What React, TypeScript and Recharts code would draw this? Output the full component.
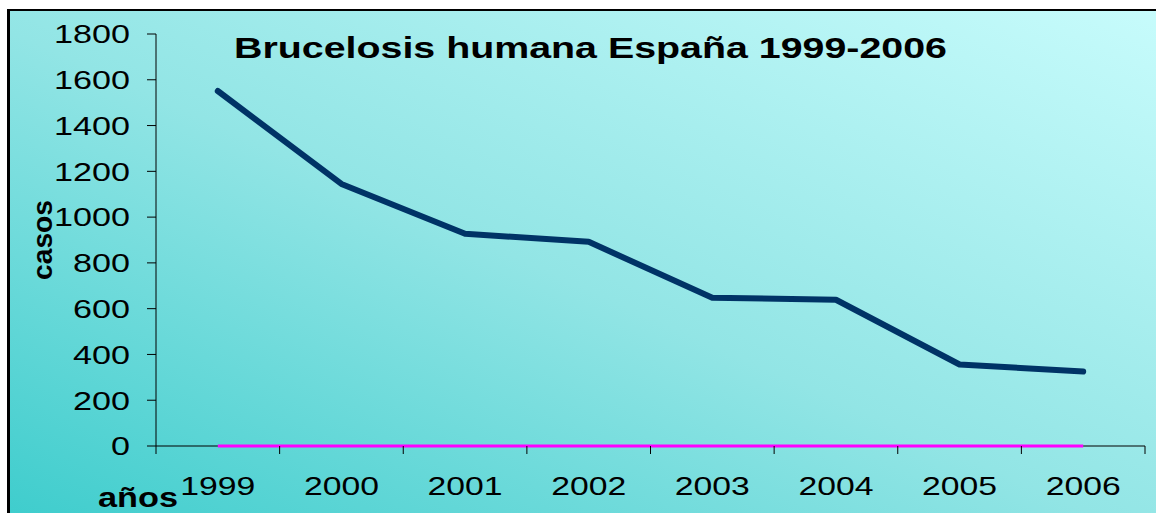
import { Line, LineChart, XAxis, YAxis } from "recharts"

const years = ["1999", "2000", "2001", "2002", "2003", "2004", "2005", "2006"]
const cases = [1551, 1145, 927, 892, 648, 639, 356, 325]
const baseline = [0, 0, 0, 0, 0, 0, 0, 0]
const yTicks = [0, 200, 400, 600, 800, 1000, 1200, 1400, 1600, 1800]

const data = years.map((year, i) => ({ year, cases: cases[i], zero: baseline[i] }))

const font = "'Liberation Sans', Arial, sans-serif"

function YTick(props: any) {
  const { x, y, payload } = props
  const label = String(payload.value)
  return (
    <g>
      <line x1={x - 9} x2={x} y1={y} y2={y} stroke="#000" strokeWidth={1} />
      <text
        x={x - 26}
        y={y}
        dy="0.36em"
        textAnchor="end"
        fontFamily={font}
        fontSize={26}
        fill="#000"
        textLength={label.length * 19}
        lengthAdjust="spacingAndGlyphs"
      >
        {label}
      </text>
    </g>
  )
}

// tick marks sit on the category borders; the axis line shows only where the
// magenta zero series does not cover it
function XTick(props: any) {
  const { x, y, payload, index } = props
  const half = payload.offset ?? 61.8
  const label = String(payload.value)
  const last = index === years.length - 1
  return (
    <g>
      <line x1={x - half} x2={x - half} y1={y} y2={y + 8} stroke="#000" strokeWidth={1} />
      {index === 0 && <line x1={x - half} x2={x} y1={y} y2={y} stroke="#000" strokeWidth={1} />}
      {last && <line x1={x + half} x2={x + half} y1={y} y2={y + 8} stroke="#000" strokeWidth={1} />}
      {last && <line x1={x} x2={x + half} y1={y} y2={y} stroke="#000" strokeWidth={1} />}
      <text
        x={x}
        y={y + 49}
        textAnchor="middle"
        fontFamily={font}
        fontSize={26}
        fill="#000"
        textLength={label.length * 18.75}
        lengthAdjust="spacingAndGlyphs"
      >
        {label}
      </text>
    </g>
  )
}

export default function App() {
  return (
    <div style={{ position: "fixed", inset: 0, overflow: "hidden", background: "#fff" }}>
      <div
        style={{
          position: "absolute",
          left: 7,
          top: 9,
          width: 1170,
          height: 520,
          borderLeft: "3px solid #000",
          borderTop: "2px solid #000",
          background: "linear-gradient(to top right, #3ccccc 0%, #92e5e5 48%, #c8fcfc 100%)",
        }}
      />
      <div style={{ position: "absolute", left: 0, top: 0 }}>
        <LineChart width={1156} height={513} data={data} margin={{ top: 34, right: 11, bottom: 0, left: 0 }}>
          <XAxis
            dataKey="year"
            scale="band"
            height={67}
            tickLine={false}
            tickSize={0}
            tickMargin={0}
            axisLine={false}
            tick={<XTick />}
            interval={0}
          />
          <YAxis
            width={156}
            domain={[0, 1800]}
            ticks={yTicks}
            tickLine={false}
            tickSize={0}
            tickMargin={0}
            axisLine={{ stroke: "#000", strokeWidth: 1 }}
            tick={<YTick />}
            interval={0}
          />
          <Line
            dataKey="zero"
            stroke="#ff00ff"
            strokeWidth={3}
            dot={false}
            isAnimationActive={false}
          />
          <Line
            dataKey="cases"
            stroke="#003366"
            strokeWidth={6}
            strokeLinecap="round"
            strokeLinejoin="round"
            dot={false}
            isAnimationActive={false}
          />
        </LineChart>
      </div>
      <svg
        width={1156}
        height={513}
        style={{ position: "absolute", left: 0, top: 0, pointerEvents: "none" }}
      >
        <text
          x={234}
          y={58}
          fontFamily={font}
          fontWeight="bold"
          fontSize={29}
          fill="#000"
          textLength={713}
          lengthAdjust="spacingAndGlyphs"
        >
          Brucelosis humana España 1999-2006
        </text>
        <text
          x={98}
          y={507}
          fontFamily={font}
          fontWeight="bold"
          fontSize={27}
          fill="#000"
          textLength={80}
          lengthAdjust="spacingAndGlyphs"
        >
          años
        </text>
        <text
          transform="translate(52,240) rotate(-90)"
          textAnchor="middle"
          fontFamily={font}
          fontWeight="bold"
          fontSize={28}
          fill="#000"
          textLength={80}
          lengthAdjust="spacingAndGlyphs"
        >
          casos
        </text>
      </svg>
    </div>
  )
}
